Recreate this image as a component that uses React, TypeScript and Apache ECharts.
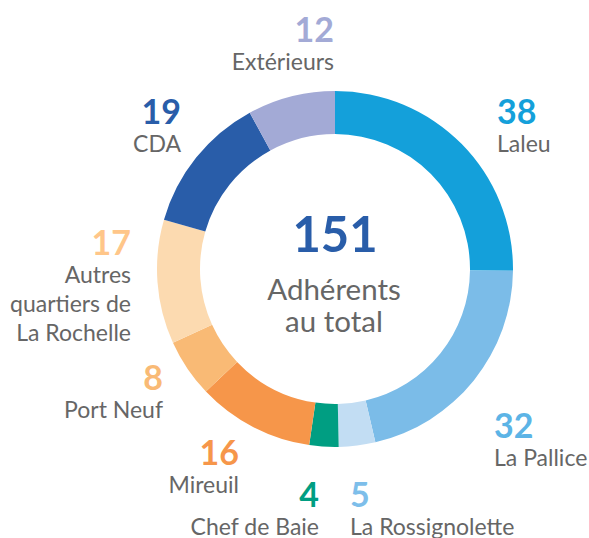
import React, { useEffect, useRef } from "react";
import * as echarts from "echarts";

const categories = [
  "Laleu",
  "La Pallice",
  "La Rossignolette",
  "Chef de Baie",
  "Mireuil",
  "Port Neuf",
  "Autres\nquartiers de\nLa Rochelle",
  "CDA",
  "Extérieurs",
];
const values = [38, 32, 5, 4, 16, 8, 17, 19, 12];
const sliceColors = [
  "#14A0DA",
  "#7BBCE8",
  "#C2DDF3",
  "#009E82",
  "#F6964A",
  "#F9BA75",
  "#FCDAB0",
  "#295DA9",
  "#A3AAD6",
];
const numberColors = [
  "#14A0DA",
  "#5CB4E6",
  "#7DBEEA",
  "#009E82",
  "#F6964A",
  "#F9BA75",
  "#FFC689",
  "#295DA9",
  "#A3AAD6",
];
const centerLines = ["Adhérents", "au total"];

// label anchor: [x, top y, align]
const labelPos: [number, number, string][] = [
  [497, 92, "left"],
  [494, 406, "left"],
  [350, 475, "left"],
  [319, 475, "right"],
  [239, 433, "right"],
  [163, 358, "right"],
  [131, 223, "right"],
  [181, 92, "right"],
  [334, 10, "right"],
];

const FONT = "Lato, 'Noto Sans', sans-serif";

export default function App() {
  const ref = useRef<HTMLDivElement>(null);
  useEffect(() => {
    document.body.style.margin = "0";
    if (!ref.current) return;
    const chart = echarts.init(ref.current, undefined, { renderer: "svg" });
    const total = values.reduce((a, b) => a + b, 0);
    const rich: any = {};
    numberColors.forEach((c, i) => {
      rich["v" + i] = {
        fontSize: 34,
        fontWeight: "bold",
        color: c,
        lineHeight: 36,
        fontFamily: FONT,
      };
    });
    rich.n = { fontSize: 23, color: "#666666", lineHeight: 29, fontFamily: FONT };
    chart.setOption({
      animation: false,
      series: [
        {
          type: "pie",
          center: [335, 269],
          radius: [135, 178],
          startAngle: 90,
          clockwise: true,
          avoidLabelOverlap: false,
          data: categories.map((name, i) => ({
            name,
            value: values[i],
            itemStyle: { color: sliceColors[i] },
          })),
          labelLine: { show: false },
          emphasis: { disabled: true },
          label: {
            show: true,
            position: "outside",
            fontFamily: FONT,
            formatter: (p: any) =>
              `{v${p.dataIndex}|${p.value}}\n` +
              String(p.name)
                .split("\n")
                .map((l) => `{n|${l}}`)
                .join("\n"),
            rich,
          },
          labelLayout: (params: any) => {
            const p = labelPos[params.dataIndex];
            return { x: p[0], y: p[1], align: p[2], verticalAlign: "top" };
          },
        },
      ],
      graphic: [
        {
          type: "text",
          x: 335,
          y: 233,
          style: {
            text: String(total),
            fontSize: 49,
            fontWeight: "bold",
            fill: "#295DA9",
            fontFamily: FONT,
            align: "center",
            verticalAlign: "middle",
          },
        },
        {
          type: "text",
          x: 334,
          y: 288,
          style: {
            text: centerLines[0],
            fontSize: 29.5,
            fill: "#666666",
            fontFamily: FONT,
            align: "center",
            verticalAlign: "middle",
          },
        },
        {
          type: "text",
          x: 334,
          y: 320,
          style: {
            text: centerLines[1],
            fontSize: 29.5,
            fill: "#666666",
            fontFamily: FONT,
            align: "center",
            verticalAlign: "middle",
          },
        },
      ],
    });
    return () => chart.dispose();
  }, []);
  return <div ref={ref} style={{ width: 589, height: 538 }} />;
}
